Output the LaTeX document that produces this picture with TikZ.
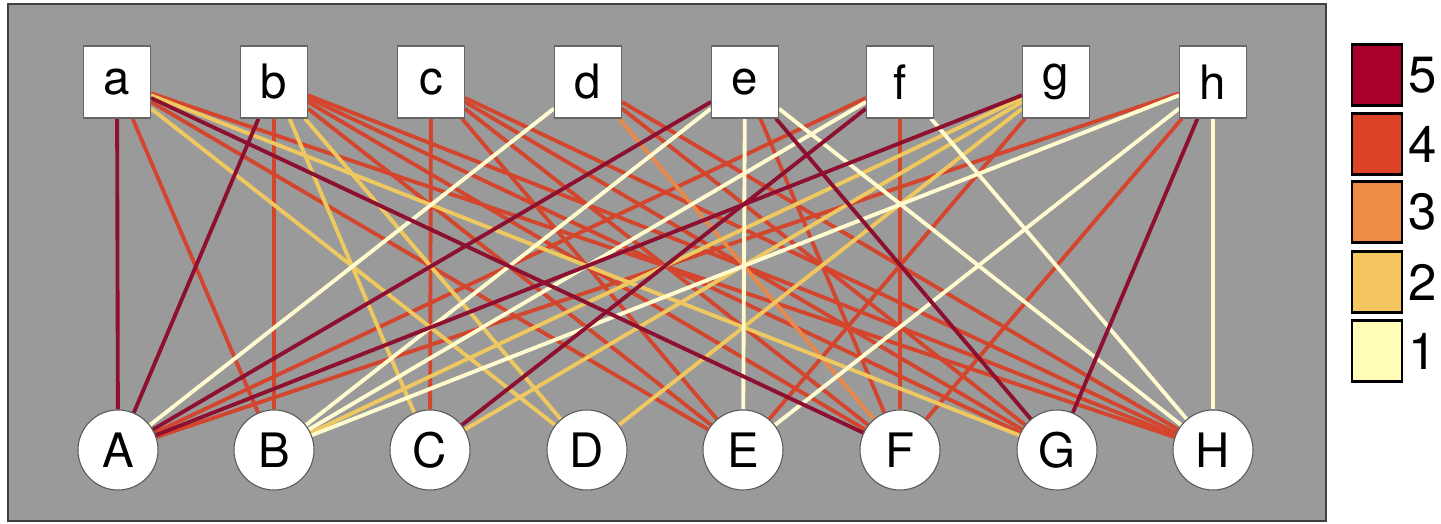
\documentclass[tikz,border=0pt]{standalone}
\usepackage{fontspec}
\setmainfont{TeX Gyre Heros}
\usetikzlibrary{backgrounds}
\definecolor{panelgray}{HTML}{9A9A9A}
\definecolor{cfive}{HTML}{A8002C}
\definecolor{cfour}{HTML}{DC4326}
\definecolor{cthree}{HTML}{EE8C45}
\definecolor{ctwo}{HTML}{F3C660}
\definecolor{cone}{HTML}{FFFDB8}
\definecolor{lfive}{HTML}{8E1030}
\definecolor{lfour}{HTML}{D4452E}
\definecolor{lthree}{HTML}{E8894A}
\definecolor{ltwo}{HTML}{F0C860}
\definecolor{lone}{HTML}{FFFBCF}
\begin{document}
\begin{tikzpicture}[x=0.02cm,y=-0.02cm,
  topnode/.style={draw=black!60, line width=0.6pt, fill=white, minimum width=1.34cm, minimum height=1.44cm, inner sep=0pt, font=\fontsize{27}{30}\selectfont},
  botnode/.style={circle, draw=black!65, line width=0.6pt, fill=white, minimum size=1.6cm, inner sep=0pt, font=\fontsize{27}{30}\selectfont},
  edge/.style={line width=2.2pt},
  legbox/.style={draw=black, line width=1.4pt, minimum width=1.0cm, minimum height=1.22cm, inner sep=0pt},
  leglabel/.style={anchor=west, inner sep=0pt, font=\fontsize{29}{32}\selectfont}]
\useasboundingbox (0,0) rectangle (1441,524);
% top nodes
\node[topnode] (a) at (117,82) {a};
\node[topnode] (b) at (274,82) {b};
\node[topnode] (c) at (431,82) {c};
\node[topnode] (d) at (588,82) {d};
\node[topnode] (e) at (745,82) {e};
\node[topnode] (f) at (900,82) {f};
\node[topnode] (g) at (1056,82) {g};
\node[topnode] (h) at (1213,82) {h};
% bottom nodes
\node[botnode] (A) at (118,450) {A};
\node[botnode] (B) at (274,450) {B};
\node[botnode] (C) at (430,450) {C};
\node[botnode] (D) at (587,450) {D};
\node[botnode] (E) at (743,450) {E};
\node[botnode] (F) at (900,450) {F};
\node[botnode] (G) at (1057,450) {G};
\node[botnode] (H) at (1213,450) {H};
\begin{scope}[on background layer]
\draw[draw=black!75, line width=1.4pt, fill=panelgray] (8,4) rectangle (1326,521);
\foreach \s/\t/\c in {
  a/B/four, a/E/four, a/H/four, b/B/four, b/E/four, b/F/four, b/G/four, b/H/four,
  c/C/four, c/E/four, c/F/four, c/G/four, c/H/four, d/G/four, d/H/four,
  e/F/four, f/A/four, f/F/four, g/E/four, h/A/four, h/F/four,
  d/F/three,
  a/D/two, a/G/two, b/C/two, b/D/two, g/B/two, g/C/two, g/D/two,
  d/A/one, e/B/one, e/E/one, e/H/one, f/B/one, f/H/one, h/B/one, h/E/one, h/H/one,
  a/A/five, a/F/five, b/A/five, e/A/five, e/G/five, f/C/five, g/A/five, h/G/five}
  \draw[edge, color=l\c] (\s) -- (\t);
\end{scope}
% legend
\node[legbox, fill=cfive]  (k5) at (1377,75)  {};
\node[legbox, fill=cfour]  (k4) at (1377,144) {};
\node[legbox, fill=cthree] (k3) at (1377,212) {};
\node[legbox, fill=ctwo]   (k2) at (1377,282) {};
\node[legbox, fill=cone]   (k1) at (1377,351) {};
\node[leglabel] (t5) at (1408,75)  {5};
\node[leglabel] (t4) at (1408,144) {4};
\node[leglabel] (t3) at (1408,212) {3};
\node[leglabel] (t2) at (1408,282) {2};
\node[leglabel] (t1) at (1408,351) {1};
\end{tikzpicture}
\end{document}
